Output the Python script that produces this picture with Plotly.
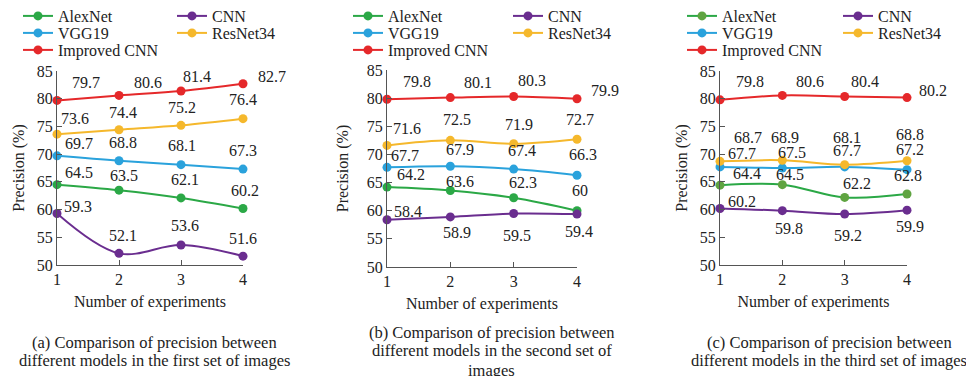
import plotly.graph_objects as go

# ---------------- data ----------------
experiments = [1, 2, 3, 4]
series_names = ["AlexNet", "CNN", "VGG19", "ResNet34", "Improved CNN"]

# panel (a) first set of images
alexnet_a = [64.5, 63.5, 62.1, 60.2]
cnn_a = [59.3, 52.1, 53.6, 51.6]
vgg19_a = [69.7, 68.8, 68.1, 67.3]
resnet34_a = [73.6, 74.4, 75.2, 76.4]
improved_a = [79.7, 80.6, 81.4, 82.7]

# panel (b) second set of images
alexnet_b = [64.2, 63.6, 62.3, 60]
cnn_b = [58.4, 58.9, 59.5, 59.4]
vgg19_b = [67.7, 67.9, 67.4, 66.3]
resnet34_b = [71.6, 72.5, 71.9, 72.7]
improved_b = [79.8, 80.1, 80.3, 79.9]

# panel (c) third set of images
alexnet_c = [64.4, 64.5, 62.2, 62.8]
cnn_c = [60.2, 59.8, 59.2, 59.9]
vgg19_c = [67.7, 67.5, 67.7, 67.2]
resnet34_c = [68.7, 68.9, 68.1, 68.8]
improved_c = [79.8, 80.6, 80.4, 80.2]

y_ticks = [50, 55, 60, 65, 70, 75, 80, 85]

captions = [
    ["(a) Comparison of precision between", "different models in the first set of images"],
    ["(b) Comparison of precision between", "different models in the second set of", "images"],
    ["(c) Comparison of precision between", "different models in the third set of images"],
]

# ---------------- styles ----------------
W, H = 966, 376
FONT = "Liberation Serif"
TXT = "#222"
colors = ["#2ba846", "#6a2d8f", "#2aa2dc", "#f5b82c", "#e5282a"]
marker_colors = [colors, colors, ["#5fa441"] + colors[1:]]

# label pixel offsets (dx right, dy down) per panel, per series, per point
offsets = [
    [  # panel a
        [(22, -12), (5, -15), (4, -18), (2, -18)],
        [(21, -7), (4, -18), (4, -20), (0, -18)],
        [(22, -12), (4, -18), (1, -19), (0, -19)],
        [(18, -16), (4, -17), (1, -18), (0, -19)],
        [(29, -18), (29, -13), (16, -14), (29, -7)],
    ],
    [  # panel b
        [(24, -13), (10, -9), (9, -15), (3, -20)],
        [(21, -8), (7, 16), (3, 22), (2, 17)],
        [(18, -12), (10, -17), (8, -19), (6, -21)],
        [(20, -17), (7, -21), (5, -19), (3, -20)],
        [(30, -18), (28, -15), (18, -16), (28, -8)],
    ],
    [  # panel c
        [(27, -12), (8, -10), (12, -14), (1, -19)],
        [(22, -7), (7, 18), (3, 21), (3, 16)],
        [(22, -13), (10, -16), (2, -16), (3, -20)],
        [(28, -24), (3, -23), (2, -27), (3, -26)],
        [(30, -18), (28, -14), (20, -15), (26, -7)],
    ],
]

# plot areas in pixels: (left, right, top, bottom)
areas = [(57, 243, 71, 265), (387, 577, 70, 267), (720, 907, 71, 265)]
legend_x0 = [23, 353, 687]
legend_step = [154, 160, 156]
legend_rows = [16, 33, 50]
ytitle_standoff = [8, 14, 8]
caption_x = [154, 492, 829]
caption_y = [[342, 360], [332, 350, 370], [342, 360]]

panels = [
    [alexnet_a, cnn_a, vgg19_a, resnet34_a, improved_a],
    [alexnet_b, cnn_b, vgg19_b, resnet34_b, improved_b],
    [alexnet_c, cnn_c, vgg19_c, resnet34_c, improved_c],
]

fig = go.Figure()
annotations = []
layout_extra = {}

for p, series in enumerate(panels):
    xa = "x" if p == 0 else f"x{p+1}"
    ya = "y" if p == 0 else f"y{p+1}"
    row_legends = []
    for r in range(3):
        idx = p * 3 + r + 1
        row_legends.append("legend" if idx == 1 else f"legend{idx}")
    for s, vals in enumerate(series):
        leg = row_legends[s // 2]
        fig.add_trace(go.Scatter(
            x=experiments, y=vals, name=series_names[s],
            mode="lines+markers",
            line=dict(color=colors[s], width=2, shape="spline", smoothing=1),
            marker=dict(color=marker_colors[p][s], size=9),
            xaxis=xa, yaxis=ya, legend=leg, cliponaxis=False,
        ))
        for i, v in enumerate(vals):
            dx, dy = offsets[p][s][i]
            annotations.append(dict(
                x=experiments[i], y=v, xref=xa, yref=ya,
                text=f"{v:g}", showarrow=False,
                xshift=dx, yshift=-dy,
                xanchor="center", yanchor="middle",
                font=dict(family=FONT, size=16, color=TXT),
            ))
    # legends
    for r, leg in enumerate(row_legends):
        layout_extra[leg] = dict(
            orientation="h",
            x=(legend_x0[p] - 5) / W, xanchor="left",
            y=(H - legend_rows[r]) / H, yanchor="middle",
            entrywidth=legend_step[p] - 45, entrywidthmode="pixels",
            font=dict(family=FONT, size=16, color=TXT),
            bgcolor="rgba(0,0,0,0)", itemwidth=30,
            tracegroupgap=0,
        )
    # axes
    l, rr, t, b = areas[p]
    xkey = "xaxis" if p == 0 else f"xaxis{p+1}"
    ykey = "yaxis" if p == 0 else f"yaxis{p+1}"
    layout_extra[xkey] = dict(
        domain=[l / W, rr / W], anchor=ya, range=[1, 4],
        tickvals=experiments, ticks="inside", ticklen=5, tickcolor="#555",
        showline=True, linecolor="#555", linewidth=1.2, showgrid=False,
        zeroline=False, automargin=False,
        tickfont=dict(family=FONT, size=16, color=TXT),
        title=dict(text="Number of experiments", standoff=8,
                   font=dict(family=FONT, size=16, color=TXT)),
    )
    layout_extra[ykey] = dict(
        domain=[(H - b) / H, (H - t) / H], anchor=xa, range=[50, 85],
        tickvals=y_ticks, ticks="inside", ticklen=5, tickcolor="#555",
        showline=True, linecolor="#555", linewidth=1.2, showgrid=False,
        zeroline=False, automargin=False,
        tickfont=dict(family=FONT, size=16, color=TXT),
        title=dict(text="Precision (%)", standoff=ytitle_standoff[p],
                   font=dict(family=FONT, size=16, color=TXT)),
    )
    # captions
    for k, line in enumerate(captions[p]):
        annotations.append(dict(
            x=caption_x[p] / W, y=(H - caption_y[p][k]) / H,
            xref="paper", yref="paper", text=line, showarrow=False,
            xanchor="center", yanchor="middle",
            font=dict(family=FONT, size=16.5, color=TXT),
        ))

fig.update_layout(
    width=W, height=H,
    margin=dict(l=0, r=0, t=0, b=0, autoexpand=False),
    paper_bgcolor="white", plot_bgcolor="white",
    annotations=annotations,
    **layout_extra,
)

fig.write_html(
    "out.html",
    config={"displayModeBar": False},
    post_script="document.body.style.margin='0';document.body.style.overflow='hidden';",
)
